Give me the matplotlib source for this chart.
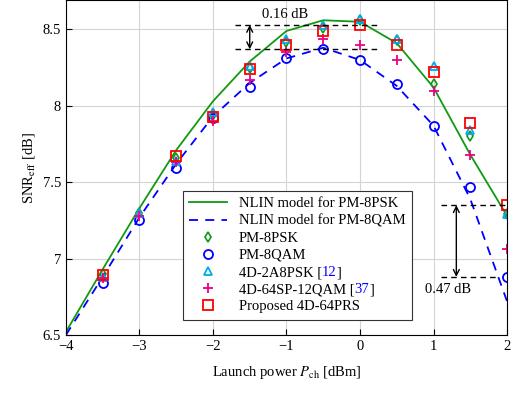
import matplotlib; matplotlib.use("Agg")
import matplotlib.pyplot as plt
from matplotlib.offsetbox import HPacker, TextArea
import numpy as np

plt.rcParams['font.family'] = ['Liberation Serif', 'DejaVu Serif']
plt.rcParams['mathtext.fontset'] = 'stix'
plt.rcParams['font.size'] = 10.5

# Launch power grid [dBm]
p_model = [-4, -3.5, -3, -2.5, -2, -1.5, -1, -0.5, 0, 0.5, 1, 1.5, 2]
nlin_8psk = [6.52, 6.93, 7.33, 7.71, 8.03, 8.29, 8.49, 8.56, 8.55, 8.41, 8.12, 7.68, 7.28]
nlin_8qam = [6.50, 6.88, 7.27, 7.62, 7.93, 8.15, 8.31, 8.38, 8.30, 8.13, 7.87, 7.39, 6.72]

p_sim = [-3.5, -3, -2.5, -2, -1.5, -1, -0.5, 0, 0.5, 1, 1.5, 2]
pm_8psk = [6.90, 7.30, 7.66, 7.94, 8.25, 8.42, 8.51, 8.56, 8.43, 8.14, 7.80, 7.29]
pm_8qam = [6.84, 7.25, 7.59, 7.92, 8.12, 8.31, 8.37, 8.30, 8.14, 7.87, 7.47, 6.88]
a2_8psk = [6.88, 7.30, 7.64, 7.96, 8.26, 8.44, 8.53, 8.57, 8.44, 8.26, 7.84, 7.29]
sp_12qam = [6.87, 7.28, 7.63, 7.90, 8.17, 8.35, 8.44, 8.40, 8.30, 8.10, 7.68, 7.06]
prs_64 = [6.89, np.nan, 7.67, 7.93, 8.24, 8.40, 8.49, 8.53, 8.40, 8.22, 7.89, 7.35]

fig = plt.figure(figsize=(5.19, 3.96), dpi=100)
ax = fig.add_axes([0.127, 0.154, 0.85, 0.845])

ax.plot(p_model, nlin_8psk, color='#119911', lw=1.3, label='NLIN model for PM-8PSK')
ax.plot(p_model, nlin_8qam, color='#0000ff', lw=1.3, ls=(0, (5, 4)), label='NLIN model for PM-8QAM')
ax.plot(p_sim, pm_8psk, ls='none', marker='d', ms=5.5, mfc='none', mec='#119911', mew=1.2, label='PM-8PSK')
ax.plot(p_sim, pm_8qam, ls='none', marker='o', ms=6.5, mfc='none', mec='#0000ff', mew=1.3, label='PM-8QAM')
ax.plot(p_sim, a2_8psk, ls='none', marker='^', ms=5.5, mfc='none', mec='#00aaee', mew=1.3, label='4D-2A8PSK [')
ax.plot(p_sim, sp_12qam, ls='none', marker='+', ms=6.5, mec='#ee0088', mew=1.3, label='4D-64SP-12QAM [')
ax.plot(p_sim, prs_64, ls='none', marker='s', ms=6.5, mfc='none', mec='#ff0000', mew=1.3, label='Proposed 4D-64PRS')

# Gap annotations
ax.hlines([8.53, 8.37], -1.7, 0.25, colors='black', linestyles=(0, (4, 3)), lw=1)
ax.annotate('', xy=(-1.5, 8.53), xytext=(-1.5, 8.37),
            arrowprops=dict(arrowstyle='<->', color='black', lw=1, shrinkA=0, shrinkB=0))
ax.text(-1.02, 8.6, '0.16 dB', ha='center', va='center')

ax.hlines(7.35, 1.1, 2.0, colors='black', linestyles=(0, (4, 3)), lw=1)
ax.hlines(6.88, 1.1, 1.86, colors='black', linestyles=(0, (4, 3)), lw=1)
ax.annotate('', xy=(1.31, 7.35), xytext=(1.31, 6.88),
            arrowprops=dict(arrowstyle='<->', color='black', lw=1, shrinkA=0, shrinkB=0))
ax.text(1.2, 6.8, '0.47 dB', ha='center', va='center')

ax.set_xlim(-4, 2)
ax.set_ylim(6.5, 8.69)
ax.set_xticks([-4, -3, -2, -1, 0, 1, 2])
ax.set_yticks([6.5, 7, 7.5, 8, 8.5])
ax.set_yticklabels(['6.5', '7', '7.5', '8', '8.5'])
ax.grid(True, color='#d4d4d4', lw=0.8)
ax.set_axisbelow(True)
ax.tick_params(direction='in', length=4, top=False, right=False)

ax.set_xlabel(r'Launch power $P_{\mathrm{ch}}$ [dBm]', labelpad=8)
ax.set_ylabel(r'SNR$_{\mathrm{eff}}$ [dB]')

leg = ax.legend(loc='lower left', bbox_to_anchor=(0.265, 0.045), borderaxespad=0,
                fancybox=False, edgecolor='#333333', framealpha=1, fontsize=10.5,
                handlelength=2.6, labelspacing=0.27, borderpad=0.45)
leg.get_frame().set_linewidth(0.8)

# Citation numbers in blue: swap the label box for a small packed row
cites = {'4D-2A8PSK [': '12', '4D-64SP-12QAM [': '37'}
for column in leg._legend_handle_box.get_children():
    for row in column.get_children():
        kids = row.get_children()
        label_box = kids[1]
        text = label_box._text.get_text()
        if text in cites:
            fp = label_box._text.get_fontproperties()
            num = TextArea(cites[text], textprops=dict(color='#0000ff', fontproperties=fp))
            close = TextArea(']', textprops=dict(color='black', fontproperties=fp))
            num.set_figure(fig)
            close.set_figure(fig)
            box = HPacker(children=[label_box, num, close], sep=0, pad=0, align='baseline')
            box.set_figure(fig)
            row._children[1] = box

plt.savefig("out.png", dpi=100)
